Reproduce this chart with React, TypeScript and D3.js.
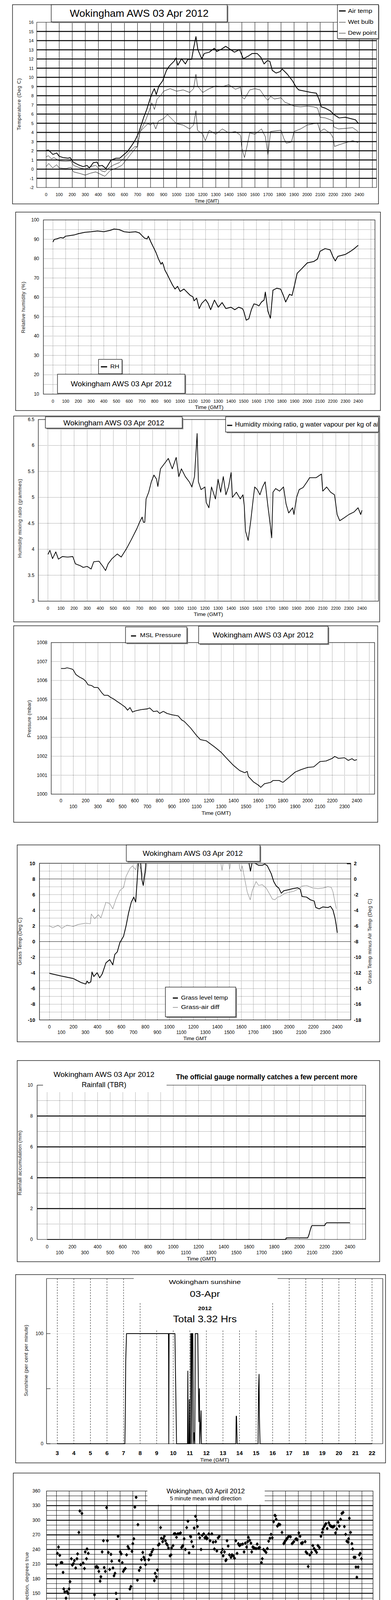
import React from "react";
import * as d3 from "d3";

type P = [number, number];
const FONT = "'Liberation Sans', Arial, Helvetica, sans-serif";

// ---------------- data ----------------
const airTemp: P[] = [[0,2.04],[17,2.08],[52,1.6],[81,1.76],[100,1.4],[130,1.26],[168,1.19],[184,1.26],[207,0.77],[245,0.48],[284,0.27],[313,0.41],[332,0.13],[361,0.7],[390,0.77],[406,0.34],[429,0.41],[458,0.06],[497,0.98],[535,1.19],[564,1.19],[593,1.55],[622,1.9],[651,2.47],[680,3.1],[709,3.95],[728,4.8],[748,5.65],[771,6.5],[796,7.64],[815,8.35],[829,8.77],[844,8.13],[864,9.06],[893,9.62],[922,10.76],[945,11.25],[980,11.75],[995,12.1],[1009,11.32],[1038,12.03],[1067,11.46],[1086,11.96],[1115,11.96],[1130,13.17],[1148,14.44],[1163,13.02],[1192,12.03],[1212,12.6],[1250,12.74],[1289,13.17],[1308,12.81],[1347,13.1],[1376,13.38],[1405,13.1],[1443,12.74],[1482,13.02],[1511,12.03],[1550,12.32],[1579,12.6],[1617,12.6],[1646,12.17],[1670,11.46],[1695,11.82],[1714,11.75],[1733,10.76],[1762,10.47],[1791,10.61],[1810,10.9],[1849,10.33],[1888,9.62],[1917,8.91],[1936,8.63],[1984,8.49],[2032,8.35],[2071,8.28],[2090,7.64],[2109,6.79],[2138,6.65],[2177,6.36],[2206,5.94],[2245,5.58],[2293,5.65],[2332,5.51],[2371,5.37],[2394,4.95]];
const wetBulb: P[] = [[0,1.33],[17,1.47],[40,1.12],[60,1.26],[100,0.9],[150,0.84],[190,0.9],[210,0.41],[260,0.13],[300,0],[340,0.27],[380,0.41],[420,-0.16],[450,-0.3],[480,0.13],[520,0.48],[560,0.7],[600,1.26],[640,1.9],[680,2.47],[700,2.4],[715,3.8],[730,4.38],[760,5.23],[790,6.36],[810,7.21],[830,6.5],[850,7.64],[880,8.06],[900,8.49],[950,8.77],[1000,8.49],[1050,8.63],[1100,8.35],[1130,8.77],[1148,10.33],[1160,9.06],[1200,8.35],[1250,8.77],[1300,9.06],[1350,8.98],[1400,9.2],[1450,8.7],[1490,8.91],[1500,7.85],[1520,7.64],[1560,8.63],[1600,8.77],[1640,8.63],[1680,7.78],[1700,7.5],[1720,7.92],[1750,7.64],[1800,7.78],[1830,7.28],[1870,7.07],[1900,6.86],[1950,6.79],[2000,6.86],[2050,6.79],[2080,6.65],[2100,5.65],[2140,5.58],[2180,5.37],[2200,5.23],[2205,4.6],[2240,4.38],[2300,4.45],[2350,4.52],[2390,4.1]];
const dewPoint: P[] = [[0,0.27],[20,0.62],[50,0.13],[80,0.48],[100,0.13],[150,0.06],[190,0.2],[210,-0.3],[250,-0.44],[300,-0.65],[340,-0.44],[380,-0.3],[420,-0.58],[450,-0.79],[490,-0.16],[540,0.13],[580,0.41],[620,1.12],[660,1.83],[700,2.54],[720,4.1],[750,4.52],[780,4.95],[800,4.8],[820,5.09],[840,4.38],[860,5.23],[900,5.51],[930,5.94],[970,5.37],[1000,4.95],[1050,4.8],[1100,4.38],[1130,4.8],[1148,6.36],[1160,4.24],[1200,3.8],[1220,3.1],[1250,4.24],[1300,3.8],[1350,4.38],[1400,3.95],[1450,4.1],[1490,3.67],[1500,2.25],[1520,1.26],[1540,2.54],[1560,3.95],[1600,3.8],[1650,4.38],[1680,3.53],[1700,1.55],[1720,4.1],[1800,4.24],[1820,3.39],[1840,2.82],[1880,2.96],[1900,4.1],[1950,4.38],[2000,4.8],[2050,4.95],[2080,5.02],[2100,4.1],[2130,4.38],[2180,3.88],[2200,3.39],[2210,2.47],[2250,2.68],[2300,2.9],[2350,3.1],[2390,2.9]];
const relHumidity: P[] = [[0,88.6],[10,89.9],[30,90.2],[60,90.9],[80,90.6],[100,91.6],[130,91.9],[170,92.3],[200,92.9],[250,93.6],[300,93.9],[350,94.3],[400,93.9],[450,94.6],[480,95.3],[520,95.0],[560,93.9],[600,93.6],[650,93.9],[680,93.3],[700,91.9],[720,90.6],[740,90.2],[750,91.6],[770,88.6],[790,85.9],[810,83.2],[830,79.8],[850,77.1],[860,78.1],[870,76.4],[880,74.1],[900,71.7],[920,69.0],[940,66.4],[960,64.3],[980,65.7],[1000,63.0],[1030,64.3],[1060,62.3],[1080,61.0],[1100,60.3],[1110,58.2],[1130,59.6],[1150,54.2],[1170,56.9],[1200,58.9],[1220,56.9],[1240,53.6],[1270,58.6],[1300,54.9],[1330,57.3],[1360,54.2],[1400,54.9],[1430,53.6],[1460,54.9],[1490,54.2],[1500,52.9],[1520,48.2],[1540,48.9],[1560,53.6],[1580,56.6],[1600,56.3],[1620,55.6],[1640,57.6],[1660,58.6],[1670,62.7],[1690,52.9],[1710,49.2],[1730,63.7],[1760,64.7],[1790,64.3],[1810,61.3],[1830,57.6],[1860,61.6],[1880,61.0],[1900,66.4],[1920,72.4],[1950,74.4],[2000,77.8],[2050,78.5],[2080,79.8],[2100,83.8],[2140,85.2],[2180,84.5],[2200,81.2],[2220,78.8],[2240,81.2],[2300,82.2],[2340,83.8],[2370,85.2],[2400,86.9]];
const mixingRatio: P[] = [[0,3.9],[15,3.98],[35,3.82],[60,3.95],[80,3.81],[110,3.86],[150,3.85],[190,3.86],[210,3.72],[250,3.68],[270,3.65],[300,3.67],[330,3.62],[350,3.76],[390,3.77],[420,3.67],[440,3.59],[460,3.72],[490,3.82],[530,3.91],[560,3.85],[600,4.01],[640,4.2],[680,4.4],[700,4.52],[720,4.62],[730,4.52],[740,4.52],[750,4.97],[770,5.1],[790,5.3],[810,5.43],[830,5.35],[840,5.21],[860,5.55],[890,5.65],[920,5.75],[950,5.55],[980,5.77],[1000,5.4],[1020,5.55],[1050,5.4],[1080,5.3],[1100,5.2],[1120,5.4],[1140,6.23],[1150,5.3],[1170,5.15],[1200,5.2],[1210,4.9],[1230,4.8],[1250,5.2],[1280,4.97],[1300,5.35],[1320,5.1],[1340,5.4],[1360,5.05],[1380,5.2],[1400,5.48],[1410,5.0],[1440,5.1],[1470,4.97],[1490,5.05],[1500,4.85],[1510,4.35],[1530,4.17],[1550,4.55],[1570,5.0],[1580,5.2],[1600,5.15],[1620,5.05],[1640,5.2],[1660,5.3],[1680,4.85],[1700,4.45],[1710,4.22],[1720,5.1],[1740,5.17],[1770,5.12],[1800,5.2],[1820,4.87],[1840,4.7],[1870,4.8],[1880,4.67],[1900,5.0],[1920,5.15],[1950,5.19],[1980,5.3],[2000,5.38],[2050,5.38],[2090,5.45],[2100,5.12],[2130,5.2],[2160,5.1],[2190,5.05],[2210,4.67],[2230,4.55],[2260,4.6],[2300,4.67],[2340,4.72],[2370,4.8],[2390,4.67],[2400,4.75]];
const mslPressure: P[] = [[0,1006.63],[30,1006.63],[50,1006.67],[90,1006.6],[100,1006.56],[120,1006.32],[150,1006.18],[180,1006.08],[200,1005.97],[220,1005.77],[250,1005.73],[270,1005.63],[300,1005.63],[330,1005.36],[350,1005.22],[380,1005.22],[400,1005.12],[430,1005.01],[460,1004.87],[490,1004.74],[520,1004.6],[540,1004.43],[560,1004.57],[580,1004.33],[600,1004.39],[650,1004.46],[700,1004.5],[720,1004.55],[750,1004.36],[780,1004.39],[800,1004.26],[830,1004.37],[860,1004.26],[900,1004.19],[950,1004.13],[980,1003.91],[1000,1003.84],[1050,1003.5],[1100,1003.09],[1130,1002.88],[1180,1002.81],[1200,1002.71],[1250,1002.47],[1300,1002.2],[1350,1001.85],[1400,1001.51],[1450,1001.24],[1490,1001.13],[1510,1001.2],[1520,1000.93],[1560,1000.65],[1600,1000.48],[1620,1000.36],[1650,1000.55],[1700,1000.62],[1720,1000.72],[1770,1000.72],[1800,1000.62],[1850,1000.89],[1900,1001.17],[1950,1001.3],[2000,1001.41],[2050,1001.44],[2100,1001.72],[2150,1001.75],[2200,1001.89],[2220,1001.99],[2250,1001.89],[2300,1001.92],[2330,1001.78],[2360,1001.87],[2380,1001.78],[2400,1001.82]];
const grassTemp: P[] = [[0,-4.05],[93,-4.38],[198,-4.71],[261,-5.21],[303,-5.43],[313,-5.05],[328,-5.3],[345,-5.13],[355,-3.88],[370,-4.46],[398,-3.97],[419,-4.63],[440,-4.13],[471,-2.72],[503,-2.3],[528,-2.97],[545,-1.64],[566,-1.3],[587,-0.14],[618,0.69],[639,2.02],[660,3.68],[682,5.01],[703,5.68],[719,5.05],[730,7.5],[740,10],[755,11.3],[770,8.0],[782,7.17],[797,8.84],[812,11.3],[1200,13],[1660,10.3],[1676,9.0],[1691,10.2],[1744,9.75],[1775,9.75],[1796,9.9],[1817,9.67],[1849,8.67],[1870,7.67],[1891,7.1],[1912,6.84],[1933,6.18],[1954,6.5],[1986,6.6],[2028,6.76],[2070,6.87],[2091,6.67],[2106,5.76],[2144,5.68],[2175,5.34],[2207,5.18],[2221,4.35],[2249,4.18],[2280,4.43],[2322,4.35],[2343,4.51],[2364,4.02],[2381,3.02],[2392,2.02],[2400,1.11]];
const grassAirDiff: P[] = [[0,-5.98],[29,-6.23],[72,-5.9],[103,-6.31],[145,-5.9],[198,-6.06],[240,-5.81],[303,-5.65],[341,-5.73],[349,-4.48],[377,-5.07],[408,-4.57],[429,-4.98],[471,-2.99],[503,-3.15],[528,-3.82],[555,-2.57],[587,-1.49],[618,-1.08],[639,0.34],[671,1.33],[692,1.67],[719,1.17],[734,2.1],[766,1.17],[787,-0.16],[804,1.0],[818,2.3],[1100,4],[1428,2.1],[1439,1.09],[1450,2.2],[1495,2.2],[1502,1.25],[1512,2.2],[1580,2.2],[1586,1.33],[1597,1.0],[1607,1.67],[1628,0.0],[1649,-1.66],[1674,-2.66],[1691,-1.49],[1723,-0.33],[1744,-0.83],[1775,-0.74],[1807,-1.16],[1838,-1.99],[1859,-2.57],[1880,-2.66],[1902,-2.32],[1923,-2.24],[1954,-1.91],[1986,-1.74],[2038,-1.57],[2080,-1.24],[2106,-0.91],[2144,-0.83],[2196,-1.16],[2238,-1.24],[2280,-1.16],[2322,-0.99],[2350,-1.08],[2364,-1.66],[2379,-2.82],[2392,-3.82]];
const rainfall: P[] = [[0,0],[1890,0],[1895,0.1],[2065,0.1],[2075,0.3],[2085,0.6],[2095,0.85],[2100,0.9],[2200,0.9],[2205,1.0],[2215,1.08],[2400,1.08]];
const sunshine: P[] = [[3,0],[7.08,0],[7.11,30],[7.13,75],[7.18,100],[9.71,100],[9.72,75],[9.73,0],[9.75,100],[10.1,100],[10.13,70],[10.2,0],[10.86,0],[10.88,66],[10.9,0],[10.95,0],[10.97,40],[11.0,0],[11.04,0],[11.06,100],[11.1,100],[11.12,0],[11.14,100],[11.18,100],[11.2,60],[11.22,0],[11.26,10],[11.3,0],[11.33,100],[11.48,100],[11.52,50],[11.55,20],[11.58,50],[11.6,0],[11.68,30],[11.7,0],[11.75,0],[13.78,0],[13.8,25],[13.82,25],[13.84,12],[13.86,0],[15.12,0],[15.15,50],[15.18,63],[15.2,25],[15.22,12],[15.24,0],[22,0]];
const windDir: P[] = [[0,208],[0.08,232],[0.16,245],[0.26,228],[0.36,213],[0.44,213],[0.52,193],[0.57,159],[0.65,153],[0.75,140],[0.83,154],[0.91,150],[0.99,159],[1.07,174],[1.17,221],[1.25,208],[1.33,211],[1.41,217],[1.51,202],[1.61,221],[1.66,231],[1.76,275],[1.84,319],[2.0,314],[1.9,209],[2.1,212],[2.2,201],[2.26,235],[2.36,221],[2.4,241],[2.5,232],[2.6,106],[2.73,98],[2.66,83],[2.83,75],[2.93,18],[2.99,147],[3.09,204],[3.17,205],[3.25,203],[3.33,195],[3.43,175],[3.49,184],[3.59,235],[3.69,258],[3.75,203],[3.84,195],[3.94,326],[4.0,258],[4.08,234],[4.18,199],[4.28,230],[4.34,216],[4.44,202],[4.52,186],[4.6,191],[4.68,150],[4.74,137],[4.84,267],[4.93,217],[5.01,235],[5.09,231],[5.17,213],[5.25,195],[5.33,199],[5.41,201],[5.51,229],[5.61,246],[5.69,242],[5.77,159],[5.85,164],[5.93,236],[6.0,252],[6.08,262],[6.16,327],[6.26,347],[6.36,177],[6.4,291],[6.5,197],[6.6,203],[6.68,219],[6.78,234],[6.86,224],[6.94,219],[7.0,209],[7.09,28],[7.13,30],[7.25,219],[7.35,229],[7.43,229],[7.49,235],[7.59,240],[7.69,176],[7.75,191],[7.85,184],[7.93,198],[8.0,249],[8.08,251],[8.18,285],[8.24,263],[8.34,256],[8.4,262],[8.48,267],[8.56,258],[8.64,252],[8.72,249],[8.8,243],[8.92,227],[9.0,229],[9.04,243],[9.16,248],[9.24,272],[9.3,272],[9.34,272],[9.43,265],[9.53,272],[9.63,272],[9.75,274],[9.83,244],[9.88,246],[9.93,248],[10.03,262],[10.13,240],[10.23,285],[10.33,298],[10.42,233],[10.52,267],[10.56,266],[10.62,256],[10.74,246],[10.82,284],[10.92,308],[11.02,300],[11.08,287],[11.18,272],[11.26,264],[11.36,240],[11.45,269],[11.57,272],[11.65,264],[11.75,266],[11.8,262],[11.85,263],[11.97,272],[12.07,258],[12.21,272],[12.31,255],[12.41,241],[12.51,256],[12.6,237],[12.7,264],[12.8,267],[12.96,234],[13.04,240],[13.1,227],[13.2,235],[13.3,217],[13.34,219],[13.4,258],[13.49,247],[13.59,229],[13.71,224],[13.79,229],[13.89,227],[13.99,222],[14.09,258],[14.19,232],[14.29,252],[14.35,249],[14.39,248],[14.49,250],[14.63,251],[14.74,235],[14.84,253],[14.94,245],[15.02,256],[15.08,265],[15.18,259],[15.28,253],[15.34,235],[15.42,245],[15.48,244],[15.54,243],[15.68,242],[15.77,251],[15.87,243],[15.97,244],[16.11,213],[16.17,221],[16.27,240],[16.37,237],[16.47,234],[16.57,242],[16.67,257],[16.77,263],[16.86,271],[16.96,264],[17.06,297],[17.16,310],[17.2,309],[17.26,302],[17.36,288],[17.42,290],[17.46,292],[17.56,291],[17.72,275],[17.86,252],[17.9,254],[17.96,257],[18.05,260],[18.1,262],[18.15,264],[18.25,267],[18.39,266],[18.51,252],[18.58,254],[18.65,256],[18.79,261],[18.85,262],[18.91,260],[19.04,274],[19.14,267],[19.24,253],[19.29,252],[19.34,254],[19.54,256],[19.6,235],[19.7,232],[19.78,205],[19.9,229],[20.04,234],[20.14,248],[20.24,242],[20.34,238],[20.44,234],[20.54,248],[20.66,244],[20.78,267],[20.88,275],[20.93,282],[21.03,287],[21.1,290],[21.17,293],[21.27,283],[21.39,295],[21.48,290],[21.55,288],[21.62,287],[21.72,286],[21.82,288],[21.92,274],[22.02,282],[22.12,296],[22.22,288],[22.32,302],[22.42,314],[22.52,316],[22.62,287],[22.72,271],[22.81,257],[22.91,255],[22.95,262],[23.01,304],[23.11,275],[23.21,252],[23.27,241],[23.37,224],[23.47,224],[23.53,204],[23.6,183],[23.7,204],[23.8,229],[23.86,232],[23.96,221]];
const windMean: P[] = [[0,1.9],[0.19,1.35],[0.48,1.26],[0.77,1.13],[1.06,1.35],[1.35,1.58],[1.54,2.48],[1.74,2.26],[1.93,0.9],[2.12,0.23],[2.31,1.13],[2.51,0.68],[2.8,0.23],[2.99,1.35],[3.28,1.35],[3.57,1.13],[3.86,1.58],[4.05,0.45],[4.24,1.35],[4.53,1.8],[4.82,0.45],[5.11,1.58],[5.4,2.71],[5.59,2.26],[5.78,1.8],[6.07,1.35],[6.27,0.68],[6.46,0.23],[6.65,2.26],[6.94,2.48],[7.13,2.26],[7.33,0.68],[7.52,1.8],[7.81,2.26],[8.19,2.71],[8.48,2.48],[8.77,2.93],[9.06,2.71],[9.35,2.93],[9.64,4.51],[9.93,3.38],[10.22,4.96],[10.51,3.84],[10.8,5.64],[11.09,4.29],[11.37,5.42],[11.66,6.77],[11.95,6.09],[12.24,6.77],[12.53,6.09],[12.82,6.54],[13.11,5.19],[13.4,6.32],[13.69,5.87],[13.98,6.77],[14.27,5.87],[14.56,7.22],[14.84,6.77],[15.08,10.6],[15.23,5.87],[15.42,4.06],[15.71,4.74],[16.0,7.22],[16.29,6.54],[16.58,7.9],[16.87,7.22],[17.06,8.57],[17.35,7.45],[17.64,6.32],[17.93,2.71],[18.22,5.87],[18.41,8.12],[18.7,6.77],[18.99,8.35],[19.28,4.06],[19.57,3.38],[19.86,2.26],[20.15,2.48],[20.34,2.03],[20.63,3.61],[20.92,6.77],[21.12,8.12],[21.41,6.32],[21.7,4.96],[21.89,4.96],[22.18,7.67],[22.38,5.87],[22.67,3.16],[22.96,1.35],[23.15,1.13],[23.44,2.26],[23.67,1.35],[24.0,1.8]];
const windGust: P[] = [[0,1.8],[0.29,1.35],[0.58,1.8],[0.87,1.13],[1.16,2.26],[1.45,2.71],[1.74,2.93],[2.02,1.35],[2.22,0.45],[2.51,1.8],[2.8,0.68],[3.08,2.03],[3.37,1.8],[3.66,2.26],[3.95,1.8],[4.24,2.71],[4.53,2.48],[4.82,0.9],[5.11,3.16],[5.34,4.29],[5.59,3.61],[5.84,3.84],[6.07,2.26],[6.36,0.68],[6.56,3.16],[6.84,3.16],[7.13,2.71],[7.29,0.1],[7.52,2.71],[7.81,3.61],[8.1,5.87],[8.29,4.06],[8.48,5.19],[8.77,6.32],[8.96,4.51],[9.25,7.22],[9.45,5.87],[9.7,10.15],[9.93,5.87],[10.22,14.67],[10.41,6.32],[10.6,8.57],[10.89,5.87],[11.18,9.25],[11.47,6.77],[11.86,12.86],[12.15,9.03],[12.43,11.51],[12.72,8.57],[13.01,11.51],[13.3,4.06],[13.5,9.03],[13.78,11.73],[14.07,8.12],[14.36,12.41],[14.65,9.93],[14.84,12.86],[15.04,18.95],[15.23,5.87],[15.42,4.74],[15.71,8.12],[15.9,11.73],[16.19,9.93],[16.48,13.09],[16.77,10.83],[16.97,14.89],[17.25,10.38],[17.45,9.25],[17.64,7.67],[17.93,4.51],[18.18,16.25],[18.41,10.83],[18.8,15.12],[18.99,10.38],[19.18,5.42],[19.47,4.51],[19.76,3.16],[20.05,2.71],[20.34,2.93],[20.63,4.96],[20.92,13.76],[21.2,10.38],[21.49,13.09],[21.78,6.77],[22.03,14.44],[22.27,7.67],[22.56,5.87],[22.81,2.71],[23.04,1.8],[23.33,4.06],[23.62,2.03],[23.82,4.06],[24.0,3.16]];
const windLowX10: P[] = [[0,18.7],[0.1,19.2],[0.13,13.2],[0.25,12.9],[0.35,12.0],[0.44,13.3],[0.52,16.2],[0.58,14.9],[0.64,13.3],[0.71,10.2],[0.77,8.6],[0.83,10.4],[0.91,12.2],[0.98,11.1],[1.06,12.9],[1.12,14.4],[1.18,20.5],[1.25,17.6],[1.31,16.2],[1.37,19.4],[1.45,17.6],[1.5,21.2],[1.58,19.4],[1.64,17.1],[1.7,14.9],[1.77,10.8],[1.83,8.6],[1.89,7.7],[1.97,5.9],[2.02,4.7],[2.08,3.6],[2.14,2.3],[2.22,4.5],[2.27,6.3],[2.35,8.6],[2.43,11.3],[2.51,10.4],[2.56,7.7],[2.64,4.1],[2.7,2.3],[2.78,5.9],[2.83,8.1],[2.91,9.7],[2.99,8.6],[3.07,7.2],[3.14,5.9],[3.22,10.2],[3.3,12.2],[3.37,14.0],[3.43,16.2],[3.51,14.9],[3.59,15.6],[3.64,10.2],[3.72,8.6],[3.8,11.3],[3.86,13.3],[3.93,12.0],[3.99,4.1],[4.07,6.8],[4.14,9.5],[4.2,13.1],[4.28,7.7],[4.36,6.8],[4.43,14.4],[4.49,21.2],[4.55,18.5],[4.61,16.2],[4.68,11.3],[4.74,17.6],[4.8,15.3],[4.86,4.1],[4.92,8.1],[4.99,14.4],[5.05,17.6],[5.11,19.9],[5.17,22.1],[5.22,24.4],[5.3,26.6],[5.38,29.3],[5.46,30.2],[5.53,24.8],[5.61,21.2],[5.69,17.6],[5.76,15.3],[5.84,13.5],[5.92,24.8],[5.98,26.2],[6.03,22.1],[6.11,19.9],[6.17,16.7],[6.23,13.1],[6.28,8.6],[6.34,6.3],[6.4,4.1],[6.46,1.8],[6.52,6.8],[6.59,11.3],[6.65,15.3],[6.71,20.8],[6.77,24.4],[6.82,26.6],[6.88,27.5],[6.96,25.7],[7.02,23.5],[7.08,20.3],[7.13,16.2],[7.19,12.2],[7.25,8.6],[7.31,5.0],[7.36,1.8],[7.42,6.3],[7.48,11.3],[7.54,14.0],[7.6,15.3],[7.65,14.4],[7.71,13.1],[7.77,16.2],[7.83,18.0],[7.89,19.4],[7.94,22.1],[8.0,24.8],[8.06,28.0],[8.12,29.8],[8.18,31.4],[8.23,32.5],[8.29,36.1],[8.35,38.8],[8.41,32.0],[8.46,28.9],[8.54,26.2],[8.62,27.5],[8.69,28.4],[8.77,29.8],[8.85,26.6],[8.93,28.4],[9.0,31.6],[9.08,29.8],[9.16,26.2],[9.23,23.0],[9.31,31.1],[9.39,33.8],[9.45,37.0],[9.5,39.5],[9.83,37.5],[9.89,34.7],[9.95,32.0],[10.01,35.6],[10.06,38.4],[10.12,39.3],[10.2,37.0],[10.26,38.8],[10.31,39.3],[10.39,35.2],[10.47,31.1],[10.53,27.5],[10.58,26.6],[10.64,37.5],[10.7,40.2],[10.76,33.8],[11.51,38.8],[11.53,36.8],[15.62,39.9],[15.65,38.6],[17.79,39.3],[17.85,38.1],[17.89,36.6],[17.93,34.7],[17.96,32.9],[17.89,30.7],[17.96,29.8],[17.93,27.5],[19.38,39.5],[19.43,37.0],[19.51,35.2],[19.57,32.0],[19.63,28.9],[19.68,26.6],[19.74,24.8],[19.8,23.5],[19.86,28.4],[19.92,31.1],[19.97,34.7],[20.03,32.9],[20.09,30.2],[20.15,27.5],[20.2,24.8],[20.26,22.1],[20.32,20.1],[20.38,22.1],[20.44,24.8],[20.5,26.6],[20.55,28.4],[20.61,29.8],[20.67,31.6],[20.72,32.9],[20.76,36.6],[20.78,39.3],[22.52,39.7],[22.56,37.7],[22.58,35.0],[22.61,32.5],[22.63,29.8],[22.65,27.5],[22.69,25.7],[22.71,22.6],[22.77,19.9],[22.83,17.6],[22.88,15.3],[22.94,13.1],[23.0,12.0],[23.08,14.4],[23.13,17.1],[23.19,19.9],[23.25,22.6],[23.31,27.5],[23.37,25.7],[23.42,24.8],[23.48,23.0],[23.54,21.2],[23.62,19.4],[23.67,16.2],[23.73,14.0],[23.79,19.4],[23.85,22.1],[23.91,21.2],[23.96,20.3],[24.02,18.0]];

// ---------------- ticks ----------------
const hhmmTicks = d3.range(0, 2401, 100);
const hhmmGrid = d3.range(0, 2501, 100);
const hourTicks = d3.range(0, 25);
const clockLabels = d3.range(0, 24).map((h) => `${String(h).padStart(2, "0")}:00`);
const sunHours = d3.range(3, 23);
const tempTicks = d3.range(-2, 17);
const rhTicks = d3.range(10, 101, 10);
const mrTicks = [3, 3.5, 4, 4.5, 5, 5.5, 6, 6.5];
const presTicks = d3.range(1000, 1009);
const grassTicks = d3.range(-10, 11, 2);
const diffTicks = d3.range(-18, 3, 2);
const rainTicks = [0, 2, 4, 6, 8, 10];
const dirTicks = d3.range(0, 361, 30);
const speedTicks = d3.range(0, 51, 10);

// ---------------- helpers ----------------
const DOT = "1,2";

function T({ x, y, s = 11, a = "middle", w = 400, len, fill = "#000", children }: any) {
  return (
    <text x={x} y={y} fontSize={s} textAnchor={a} fontWeight={w} fill={fill} dominantBaseline="central"
      textLength={len} lengthAdjust={len ? "spacingAndGlyphs" : undefined}>
      {children}
    </text>
  );
}
function VT({ x, y, s = 13, len, children }: any) {
  return (
    <text transform={`translate(${x},${y}) rotate(-90)`} fontSize={s} textAnchor="middle" dominantBaseline="central"
      textLength={len} lengthAdjust="spacing" fill="#222">
      {children}
    </text>
  );
}
function SBox({ x, y, w, h, sh = 3 }: any) {
  return (
    <g>
      <rect x={x + sh} y={y + sh} width={w} height={h} fill="#8c8c8c" />
      <rect x={x} y={y} width={w} height={h} fill="#fff" stroke="#000" strokeWidth={1.2} />
    </g>
  );
}
function Frame({ x0, y0, x1, y1 }: any) {
  return <rect x={x0} y={y0} width={x1 - x0} height={y1 - y0} fill="none" stroke="#000" strokeWidth={1.3} />;
}
function Series({ data, x, y, stroke = "#000", w = 1, clip }: any) {
  const d = d3.line<P>().x((p) => x(p[0])).y((p) => y(p[1]))(data) || "";
  return <path d={d} fill="none" stroke={stroke} strokeWidth={w} strokeLinejoin="round" clipPath={clip ? `url(#${clip})` : undefined} />;
}
function Clip({ id, x0, y0, x1, y1 }: any) {
  return <clipPath id={id}><rect x={x0} y={y0} width={x1 - x0} height={y1 - y0} /></clipPath>;
}
function Diamond({ cx, cy, w, h, fill, stroke, sw = 0.8 }: any) {
  return <path d={`M${cx},${cy - h}L${cx + w},${cy}L${cx},${cy + h}L${cx - w},${cy}Z`} fill={fill} stroke={stroke} strokeWidth={sw} />;
}
function HHMMLabels({ x, y1, y2, s = 11, w = 400 }: any) {
  return (
    <g>
      {hhmmTicks.map((t, i) => (
        <T key={t} x={x(t)} y={y2 === undefined || i % 2 === 0 ? y1 : y2} s={s} w={w}>{t}</T>
      ))}
    </g>
  );
}

// ---------------- panels ----------------
function TempPanel() {
  const L = 94, R = 963, Tp = 57, B = 480;
  const x = d3.scaleLinear().domain([-72, 2532]).range([L, R]);
  const y = d3.scaleLinear().domain([-2, 16]).range([B, Tp]);
  return (
    <g>
      <Frame x0={32} y0={12} x1={968} y1={522} />
      <Clip id="c1" x0={L} y0={Tp} x1={R} y1={B} />
      {hhmmGrid.map((t) => <line key={t} x1={x(t)} x2={x(t)} y1={Tp} y2={B} stroke="#000" strokeWidth={1} />)}
      {d3.range(-1, 16).map((v) => <line key={v} x1={L} x2={R} y1={y(v)} y2={y(v)} stroke="#000" strokeWidth={2.3} />)}
      <rect x={L} y={Tp} width={R - L} height={B - Tp} fill="none" stroke="#000" strokeWidth={1} />
      <Series data={dewPoint} x={x} y={y} w={1} clip="c1" />
      <Series data={wetBulb} x={x} y={y} w={1} clip="c1" />
      <Series data={airTemp} x={x} y={y} w={2} clip="c1" />
      {tempTicks.map((v) => <T key={v} x={86} y={y(v)} a="end">{v}</T>)}
      <HHMMLabels x={x} y1={498} />
      <T x={529} y={515} s={12} len={62}>Time (GMT)</T>
      <VT x={48} y={267} len={133}>Temperature (Deg C)</VT>
      <SBox x={131} y={12} w={450} h={44} />
      <T x={356} y={34} s={25} len={355}>Wokingham AWS 03 Apr 2012</T>
      <SBox x={863} y={12} w={105} h={87} sh={2} />
      <line x1={867} x2={884} y1={28} y2={28} stroke="#000" strokeWidth={3} />
      <T x={890} y={27} s={15} a="start" len={62}>Air temp</T>
      <line x1={867} x2={884} y1={57} y2={57} stroke="#000" strokeWidth={1} />
      <T x={890} y={55} s={15} a="start" len={65}>Wet bulb</T>
      <line x1={867} x2={884} y1={85} y2={85} stroke="#000" strokeWidth={1} />
      <T x={890} y={83} s={15} a="start" len={73}>Dew point</T>
    </g>
  );
}

function RHPanel() {
  const L = 111, R = 959, Tp = 563, B = 1009;
  const x = d3.scaleLinear().domain([-75, 2532]).range([L, R]);
  const y = d3.scaleLinear().domain([10, 100]).range([B, Tp]);
  return (
    <g>
      <Frame x0={40} y0={543} x1={973} y1={1051} />
      <Clip id="c2" x0={L} y0={Tp} x1={R} y1={B} />
      {hhmmGrid.map((t) => <line key={t} x1={x(t)} x2={x(t)} y1={Tp} y2={B} stroke="#000" strokeWidth={0.9} strokeDasharray={DOT} />)}
      {d3.range(15, 100, 5).map((v) => <line key={v} x1={L} x2={R} y1={y(v)} y2={y(v)} stroke="#000" strokeWidth={0.9} strokeDasharray={DOT} />)}
      <rect x={L} y={Tp} width={R - L} height={B - Tp} fill="none" stroke="#000" strokeWidth={1.2} />
      <Series data={relHumidity} x={x} y={y} w={2} clip="c2" />
      {rhTicks.map((v) => <T key={v} x={100} y={y(v)} a="end" s={12}>{v}</T>)}
      <HHMMLabels x={x} y1={1027} />
      <T x={535} y={1043} s={12} len={73}>Time (GMT)</T>
      <VT x={59} y={787} len={132}>Relative humidity (%)</VT>
      <SBox x={252} y={920} w={60} h={37} sh={2} />
      <line x1={258} x2={274} y1={939} y2={939} stroke="#000" strokeWidth={3} />
      <T x={282} y={937} s={15} a="start" len={23}>RH</T>
      <SBox x={147} y={958} w={326} h={49} />
      <T x={310} y={982} s={19} len={258}>Wokingham AWS 03 Apr 2012</T>
    </g>
  );
}

function MRPanel() {
  const L = 98, R = 968, Tp = 1074, B = 1539;
  const x = d3.scaleLinear().domain([-73.5, 2526]).range([L, R]);
  const y = d3.scaleLinear().domain([3, 6.5]).range([B, Tp]);
  return (
    <g>
      <Frame x0={35} y0={1065} x1={971} y1={1592} />
      <Clip id="c3" x0={L} y0={Tp} x1={R} y1={B} />
      <Clip id="c3b" x0={577} y0={1067} x1={966} y1={1106} />
      {hhmmGrid.map((t) => <line key={t} x1={x(t)} x2={x(t)} y1={Tp} y2={B} stroke="#000" strokeWidth={0.9} strokeDasharray={DOT} />)}
      {mrTicks.slice(1, -1).map((v) => <line key={v} x1={L} x2={R} y1={y(v)} y2={y(v)} stroke="#000" strokeWidth={0.9} strokeDasharray={DOT} />)}
      <rect x={L} y={Tp} width={R - L} height={B - Tp} fill="none" stroke="#000" strokeWidth={1.2} />
      <Series data={mixingRatio} x={x} y={y} w={1.8} clip="c3" />
      {mrTicks.map((v) => <T key={v} x={88} y={y(v)} a="end" s={12}>{v}</T>)}
      <HHMMLabels x={x} y1={1557} />
      <T x={533} y={1573} s={12} len={75}>Time (GMT)</T>
      <VT x={50} y={1327} len={202}>Humidity mixing ratio (grammes)</VT>
      <SBox x={116} y={1067} w={350} h={29} />
      <T x={291} y={1082} s={19} len={258}>Wokingham AWS 03 Apr 2012</T>
      <SBox x={577} y={1067} w={391} h={39} />
      <line x1={581} x2={594} y1={1089} y2={1089} stroke="#000" strokeWidth={3} />
      <g clipPath="url(#c3b)">
        <T x={601} y={1086} s={16} a="start" len={372}>Humidity mixing ratio, g water vapour per kg of air</T>
      </g>
    </g>
  );
}

function PressurePanel() {
  const L = 131, R = 958, Tp = 1645, B = 2033;
  const x = d3.scaleLinear().domain([-79, 2543]).range([L, R]);
  const y = d3.scaleLinear().domain([1000, 1008]).range([B, Tp]);
  return (
    <g>
      <Frame x0={35} y0={1602} x1={966} y1={2105} />
      <Clip id="c4" x0={L} y0={Tp} x1={R} y1={B} />
      {hhmmGrid.map((t) => <line key={t} x1={x(t)} x2={x(t)} y1={Tp} y2={B} stroke="#000" strokeWidth={0.9} strokeDasharray={DOT} />)}
      {d3.range(1001, 1008).map((v) => <line key={v} x1={L} x2={R} y1={y(v)} y2={y(v)} stroke="#000" strokeWidth={0.9} strokeDasharray={DOT} />)}
      <rect x={L} y={Tp} width={R - L} height={B - Tp} fill="none" stroke="#000" strokeWidth={1.2} />
      <Series data={mslPressure} x={x} y={y} w={1.8} clip="c4" />
      {presTicks.map((v) => <T key={v} x={121} y={y(v)} a="end" s={12}>{v}</T>)}
      <HHMMLabels x={x} y1={2050} y2={2065} s={12} />
      <T x={553} y={2082} s={12} len={75}>Time (GMT)</T>
      <VT x={74} y={1840} len={95}>Pressure (mbar)</VT>
      <SBox x={321} y={1605} w={157} h={41} />
      <line x1={335} x2={348} y1={1628} y2={1628} stroke="#000" strokeWidth={3} />
      <T x={358} y={1625} s={15} a="start" len={105}>MSL Pressure</T>
      <SBox x={508} y={1603} w={331} h={45} />
      <T x={673} y={1625} s={19} len={258}>Wokingham AWS 03 Apr 2012</T>
    </g>
  );
}

function GrassPanel() {
  const L = 101, R = 897, Tp = 2210, B = 2611;
  const x = d3.scaleLinear().domain([-83, 2512]).range([L, R]);
  const yL = d3.scaleLinear().domain([-10, 10]).range([B, Tp]);
  const yR = d3.scaleLinear().domain([-18, 2]).range([B, Tp]);
  return (
    <g>
      <Frame x0={44} y0={2163} x1={971} y1={2667} />
      <Clip id="c5" x0={L} y0={Tp} x1={R} y1={B} />
      {hhmmTicks.map((t) => <line key={t} x1={x(t)} x2={x(t)} y1={Tp} y2={B} stroke="#000" strokeWidth={0.9} strokeDasharray={DOT} />)}
      {d3.range(-9, 10).map((v) => <line key={v} x1={L} x2={R} y1={yL(v)} y2={yL(v)} stroke="#000" strokeWidth={0.9} strokeDasharray={v === 0 || v === 8 ? undefined : DOT} />)}
      <rect x={L} y={Tp} width={R - L} height={B - Tp} fill="none" stroke="#000" strokeWidth={1.3} />
      <Series data={grassAirDiff} x={x} y={yR} w={1.2} stroke="#8a8a8a" clip="c5" />
      <Series data={grassTemp} x={x} y={yL} w={2} clip="c5" />
      {grassTicks.map((v) => <T key={v} x={90} y={yL(v)} a="end" s={13} w={700}>{v}</T>)}
      {diffTicks.map((v) => <T key={v} x={905} y={yR(v)} a="start" s={13} w={700}>{v}</T>)}
      <line x1={887} x2={897} y1={Tp + 1} y2={Tp + 1} stroke="#000" strokeWidth={2.5} />
      <HHMMLabels x={x} y1={2629} y2={2643} s={12} />
      <T x={499} y={2659} s={12} len={60}>Time GMT</T>
      <VT x={50} y={2410} len={122}>Grass Temp (Deg C)</VT>
      <VT x={945} y={2410} len={218}>Grass Temp minus Air Temp (Deg C)</VT>
      <SBox x={323} y={2163} w={342} h={42} />
      <T x={493} y={2184} s={19} len={256}>Wokingham AWS 03 Apr 2012</T>
      <SBox x={423} y={2527} w={180} h={76} sh={3} />
      <line x1={442} x2={455} y1={2555} y2={2555} stroke="#000" strokeWidth={3} />
      <T x={463} y={2553} s={15} a="start" len={120}>Grass level temp</T>
      <line x1={442} x2={455} y1={2579} y2={2579} stroke="#8a8a8a" strokeWidth={1.5} />
      <T x={463} y={2577} s={15} a="start" len={98}>Grass-air diff</T>
    </g>
  );
}

function RainPanel() {
  const L = 95, R = 935, Tp = 2778, B = 3173;
  const x = d3.scaleLinear().domain([-79, 2524]).range([L, R]);
  const y = d3.scaleLinear().domain([0, 10]).range([B, Tp]);
  return (
    <g>
      <Frame x0={44} y0={2715} x1={971} y1={3230} />
      {hhmmGrid.map((t) => <line key={t} x1={x(t)} x2={x(t)} y1={t < 1000 ? 2797 : Tp} y2={B} stroke="#000" strokeWidth={0.9} strokeDasharray={DOT} />)}
      {[1, 3, 5, 7, 9].map((v) => <line key={v} x1={L} x2={R} y1={y(v)} y2={y(v)} stroke="#000" strokeWidth={0.9} strokeDasharray={DOT} />)}
      {[2, 4, 6, 8].map((v) => <line key={v} x1={L} x2={R} y1={y(v)} y2={y(v)} stroke="#000" strokeWidth={2.3} />)}
      <line x1={L} x2={L} y1={Tp} y2={B} stroke="#000" strokeWidth={1.2} />
      <line x1={R} x2={R} y1={Tp} y2={B} stroke="#000" strokeWidth={1.2} />
      <line x1={L} x2={R} y1={B} y2={B} stroke="#000" strokeWidth={1.2} />
      <line x1={L} x2={110} y1={Tp} y2={Tp} stroke="#000" strokeWidth={1.2} />
      <line x1={426} x2={R} y1={Tp} y2={Tp} stroke="#000" strokeWidth={1.2} />
      <Series data={rainfall} x={x} y={y} w={2} />
      {rainTicks.map((v) => <T key={v} x={84} y={y(v)} a="end" s={12}>{v}</T>)}
      <HHMMLabels x={x} y1={3192} y2={3207} s={12} />
      <T x={515} y={3223} s={12} len={75}>Time (GMT)</T>
      <VT x={50} y={2977} len={166}>Rainfall accumulation (mm)</VT>
      <T x={266} y={2751} s={18} len={258}>Wokingham AWS 03 Apr 2012</T>
      <T x={266} y={2777} s={18} len={114}>Rainfall (TBR)</T>
      <T x={682} y={2756} s={19} w={600} len={464}>The official gauge normally catches a few percent more</T>
    </g>
  );
}

function SunPanel() {
  const L = 119, R = 979, Tp = 3273, B = 3696;
  const x = d3.scaleLinear().domain([2.35, 22.65]).range([L, R]);
  const y = d3.scaleLinear().domain([0, 150]).range([B, Tp]);
  return (
    <g>
      <Frame x0={40} y0={3263} x1={986} y1={3745} />
      {sunHours.map((h) => <line key={h} x1={x(h)} x2={x(h)} y1={Tp} y2={B} stroke="#000" strokeWidth={0.9} strokeDasharray="4,3" />)}
      {[50, 100].map((v) => <line key={v} x1={L} x2={R} y1={y(v)} y2={y(v)} stroke="#aaa" strokeWidth={0.9} strokeDasharray={DOT} />)}
      <rect x={342} y={3268} width={368} height={65} fill="#fff" />
      <rect x={361} y={3333} width={333} height={72} fill="#fff" />
      <line x1={L} x2={L} y1={Tp} y2={B} stroke="#000" strokeWidth={1.2} />
      <line x1={R} x2={R} y1={Tp} y2={B} stroke="#000" strokeWidth={1.2} />
      <line x1={L} x2={R} y1={B} y2={B} stroke="#000" strokeWidth={1.2} />
      <line x1={L} x2={342} y1={Tp} y2={Tp} stroke="#000" strokeWidth={1.2} />
      <line x1={710} x2={R} y1={Tp} y2={Tp} stroke="#000" strokeWidth={1.2} />
      {[0, 50, 100].map((v) => <line key={v} x1={L} x2={L + 10} y1={y(v)} y2={y(v)} stroke="#000" strokeWidth={1} />)}
      <Series data={sunshine} x={x} y={y} w={2} />
      <T x={111} y={y(100)} a="end" s={12}>100</T>
      <T x={111} y={y(0)} a="end" s={12}>0</T>
      {sunHours.map((h) => <T key={h} x={x(h)} y={3719} s={15} w={700}>{h}</T>)}
      <T x={549} y={3738} s={12} len={74}>Time (GMT)</T>
      <VT x={66} y={3483} len={183}>Sunshine (per cent per minute)</VT>
      <T x={524} y={3282} s={14} len={184}>Wokingham sunshine</T>
      <T x={524} y={3312} s={22} len={77}>03-Apr</T>
      <T x={524} y={3349} s={13} w={700} len={35}>2012</T>
      <T x={524} y={3377} s={23} len={163}>Total 3.32 Hrs</T>
    </g>
  );
}

function DirPanel() {
  const L = 119, R = 954, Tp = 3817, B = 4266;
  const x = d3.scaleLinear().domain([-0.78, 24.87]).range([L, R]);
  const y = d3.scaleLinear().domain([0, 360]).range([B, Tp]);
  return (
    <g>
      <Frame x0={34} y0={3771} x1={971} y1={4314} />
      {hourTicks.map((h) => <line key={h} x1={x(h)} x2={x(h)} y1={Tp} y2={B} stroke="#000" strokeWidth={1} />)}
      {d3.range(10, 360, 10).map((v) => <line key={v} x1={L} x2={R} y1={y(v)} y2={y(v)} stroke="#000" strokeWidth={v % 30 === 0 ? 2.4 : 1} />)}
      <rect x={L} y={Tp} width={R - L} height={B - Tp} fill="none" stroke="#000" strokeWidth={1.2} />
      <rect x={377} y={3805} width={300} height={47} fill="#fff" />
      {windDir.map((p, i) => <Diamond key={i} cx={x(p[0])} cy={y(p[1])} w={3.6} h={4.6} fill="#000" stroke="#000" sw={0.5} />)}
      {dirTicks.map((v) => <T key={v} x={103} y={y(v)} a="end" s={12}>{v}</T>)}
      {hourTicks.map((h) => <T key={h} x={x(h)} y={4283} s={13}>{h}</T>)}
      <T x={535} y={4302} s={13} len={75}>Time (GMT)</T>
      <VT x={68} y={4043} len={139}>Direction, degrees true</VT>
      <T x={526} y={3817} s={17} len={200}>Wokingham,  03 April 2012</T>
      <T x={526} y={3836} s={14} len={183}>5 minute mean wind direction</T>
    </g>
  );
}

function SpeedPanel() {
  const L = 95, R = 954, Tp = 4377, B = 4747;
  const x = d3.scaleLinear().domain([-0.73, 24.94]).range([L, R]);
  const y = d3.scaleLinear().domain([0, 50]).range([B, Tp]);
  return (
    <g>
      <Frame x0={35} y0={4318} x1={973} y1={4817} />
      <Clip id="c9" x0={L} y0={Tp} x1={R} y1={B} />
      {hourTicks.map((h) => <line key={h} x1={x(h)} x2={x(h)} y1={Tp} y2={B} stroke="#000" strokeWidth={0.9} strokeDasharray={DOT} />)}
      {d3.range(5, 50, 5).map((v) => <line key={v} x1={L} x2={R} y1={y(v)} y2={y(v)} stroke="#000" strokeWidth={0.9} strokeDasharray={DOT} />)}
      <line x1={L} x2={L} y1={Tp} y2={B} stroke="#000" strokeWidth={1.2} />
      <line x1={R} x2={R} y1={Tp} y2={B} stroke="#000" strokeWidth={1.2} />
      <line x1={L} x2={R} y1={B} y2={B} stroke="#000" strokeWidth={1.2} />
      <line x1={444} x2={R} y1={Tp} y2={Tp} stroke="#000" strokeWidth={1.2} />
      <line x1={L} x2={L + 7} y1={Tp} y2={Tp} stroke="#000" strokeWidth={1.2} />
      <Series data={windGust} x={x} y={y} w={1} stroke="#3a3a3a" clip="c9" />
      <Series data={windMean} x={x} y={y} w={2} stroke="#000" clip="c9" />
      {windLowX10.map((p, i) => <Diamond key={i} cx={x(p[0])} cy={y(p[1])} w={4.5} h={4.8} fill="#c4c4c4" stroke="#333" sw={0.8} />)}
      {speedTicks.map((v) => <T key={v} x={84} y={y(v)} a="end" s={12}>{v}</T>)}
      {clockLabels.map((l, i) => <T key={l} x={x(i)} y={i % 2 === 0 ? 4765 : 4778} s={12}>{l}</T>)}
      <T x={524} y={4795} s={13} len={76}>Time (GMT)</T>
      <VT x={50} y={4563} len={82}>Speed (knots)</VT>
      <T x={966} y={4748} s={11} w={700}>0</T>
      <T x={272} y={4358} s={21} len={228}>Wokingham,  03 April 2012</T>
      <T x={584} y={4331} s={14} len={235}>Wind speed, 10 min mean / max gust</T>
      <T x={584} y={4365} s={14} len={225}>Speeds below 4 kt shown at x10 scale</T>
      <SBox x={742} y={4325} w={227} h={41} />
      <line x1={776} x2={786} y1={4356} y2={4356} stroke="#000" strokeWidth={2.5} />
      <T x={795} y={4355} s={12} a="start" len={47}>Speed x 1</T>
      <Diamond cx={868} cy={4355} w={3.5} h={4} fill="#c4c4c4" stroke="#333" />
      <T x={881} y={4355} s={12} a="start" len={53}>Speed / 10</T>
    </g>
  );
}

export default function App() {
  return (
    <div style={{ position: "absolute", left: 0, top: 0, width: 1000, height: 5000, background: "#fff" }}>
      <svg width={1000} height={5000} style={{ display: "block", fontFamily: FONT }}>
        <rect width={1000} height={5000} fill="#fff" />
        <TempPanel />
        <RHPanel />
        <MRPanel />
        <PressurePanel />
        <GrassPanel />
        <RainPanel />
        <SunPanel />
        <DirPanel />
        <SpeedPanel />
      </svg>
    </div>
  );
}
